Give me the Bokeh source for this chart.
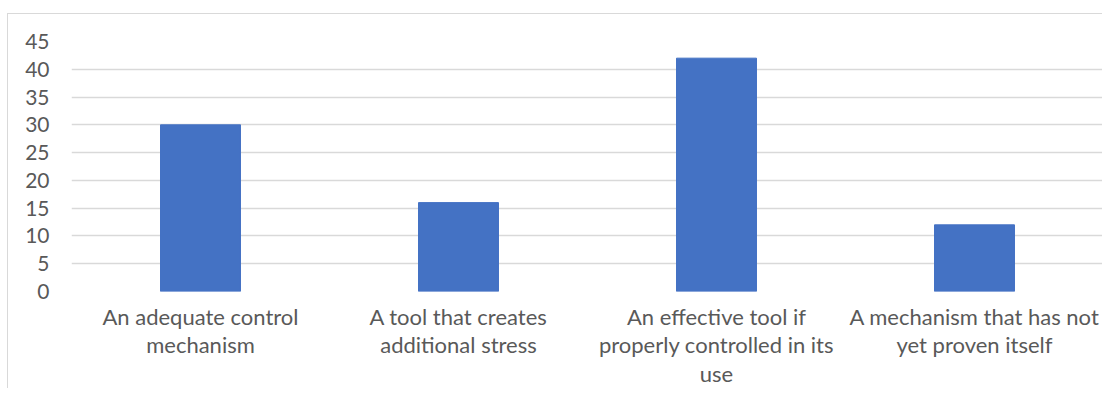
from bokeh.plotting import figure
from bokeh.models import ColumnDataSource, FixedTicker
from bokeh.embed import file_html
from bokeh.resources import INLINE

categories = [
    "An adequate control\nmechanism",
    "A tool that creates\nadditional stress",
    "An effective tool if\nproperly controlled in its\nuse",
    "A mechanism that has not\nyet proven itself",
]
values = [30, 16, 42, 12]
y_ticks = [0, 5, 10, 15, 20, 25, 30, 35, 40, 45]

FONT = "Lato"
TEXT = "#595959"

source = ColumnDataSource(data=dict(cat=categories, val=values))

p = figure(
    x_range=categories, y_range=(0, 45),
    width=1095, height=375,
    output_backend="svg", toolbar_location=None,
    min_border_left=63, min_border_right=0,
    min_border_top=27, min_border_bottom=98,
)
p.margin = (13, 0, 0, 7)
p.styles = {"border-top": "1px solid #d9d9d9", "border-left": "1px solid #d9d9d9"}

p.vbar(x="cat", top="val", width=0.31, source=source, color="#4472C4")

p.outline_line_color = None
p.xgrid.grid_line_color = None
p.ygrid.grid_line_color = "#d9d9d9"
p.ygrid.grid_line_width = 1.5
p.yaxis.ticker = FixedTicker(ticks=y_ticks)

for ax in (p.xaxis, p.yaxis):
    ax.axis_line_color = None
    ax.major_tick_line_color = None
    ax.minor_tick_line_color = None
    ax.major_tick_out = 0
    ax.major_tick_in = 0
    ax.major_label_text_font = FONT
    ax.major_label_text_color = TEXT

p.yaxis.major_label_text_font_size = "21px"
p.yaxis.major_label_standoff = 22
p.xaxis.major_label_text_font_size = "22px"
p.xaxis.major_label_standoff = 11
p.xaxis.major_label_text_line_height = 1.06

open("out.html", "w").write(file_html(p, INLINE))
